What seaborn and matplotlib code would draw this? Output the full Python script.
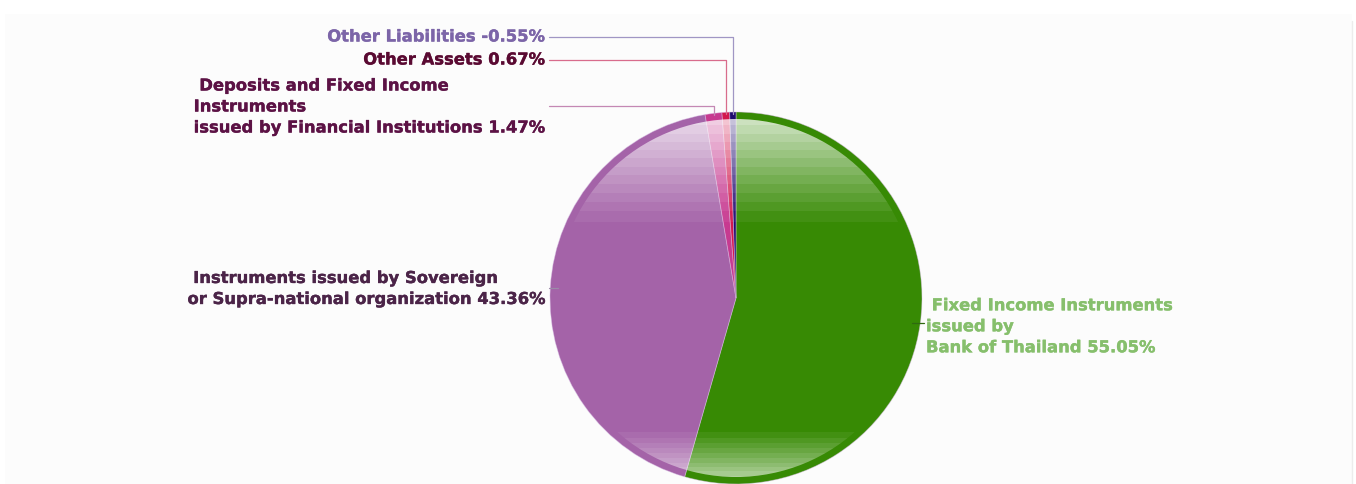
import numpy as np
import matplotlib
matplotlib.use("Agg")
import matplotlib.pyplot as plt
import matplotlib.patheffects as pe
from matplotlib.patches import Circle, Rectangle
import seaborn as sns

# Portfolio composition (% of NAV)
categories = [
    "Fixed Income Instruments\nissued by\nBank of Thailand",
    "Instruments issued by Sovereign\nor Supra-national organization",
    "Deposits and Fixed Income\nInstruments\nissued by Financial Institutions",
    "Other Assets",
    "Other Liabilities",
]
shares = [55.05, 43.36, 1.47, 0.67, -0.55]
slice_colors = ["#378a04", "#a463a8", "#c73a90", "#d2174c", "#1e0b6e"]
label_colors = ["#86bf6c", "#4b2448", "#5c1245", "#5a0a32", "#7c65a8"]
line_colors = ["#2f6a10", "#9c8aa8", "#c488b4", "#d86c8c", "#a096c4"]

sns.set_theme(style="white")
plt.rcParams["font.family"] = ["DejaVu Sans"]

W, H = 1356, 485
fig = plt.figure(figsize=(W / 100, H / 100), dpi=100, facecolor="white")
ax = fig.add_axes([0, 0, 1, 1])
ax.set_facecolor("white")

# light panel behind the chart
ax.add_patch(Rectangle((5, 0), 1347, H - 15, facecolor="#fcfcfc",
                       edgecolor="none", zorder=0))
ax.plot([1352, 1352], [0, H - 22], color="#ececec", lw=1, zorder=0.5)

cx, cy, r = 736, H - 299, 186
sizes = np.abs(shares)
wedges, _ = ax.pie(sizes, colors=slice_colors, startangle=90, counterclock=False,
                   center=(cx, cy), radius=r,
                   wedgeprops=dict(linewidth=0.6, edgecolor=(0.85, 0.75, 0.9, 0.5)))
for w in wedges:
    w.set_zorder(2)

# glossy shading: light bands at top and bottom, clipped inside the rim
ri = r - 7
ys = np.arange(2 * r)  # rows from top of the pie
ypix = (H - cy - r) + ys
alpha = np.zeros_like(ys, dtype=float)
top = (ypix >= 113) & (ypix < 228)
alpha[top] = 0.82 * (1 - (ypix[top] - 113) / 115.0) ** 1.1
bot = (ypix >= 428)
alpha[bot] = 0.62 * np.clip((ypix[bot] - 428) / 50.0, 0, 1) ** 1.2
alpha = np.round(alpha * 16) / 16
img = np.ones((2 * r, 2 * r, 4))
img[:, :, 3] = alpha[:, None]
im = ax.imshow(img, extent=(cx - r, cx + r, cy - r, cy + r), origin="upper",
               zorder=3, interpolation="nearest")
im.set_clip_path(Circle((cx, cy), ri, transform=ax.transData))

# slice mid-angles (clockwise from 12 o'clock)
frac = sizes / sizes.sum()
starts = np.concatenate([[0], np.cumsum(frac)[:-1]])
mids = (starts + frac / 2) * 2 * np.pi

def on_pie(theta, rad):
    return cx + rad * np.sin(theta), cy + rad * np.cos(theta)

fs = 11.8
txt_kw = dict(fontsize=fs, fontweight="bold", zorder=5, linespacing=1.5)

def label(x, y, s, color, **kw):
    t = ax.text(x, y, s, color=color, **txt_kw, **kw)
    t.set_path_effects([pe.withStroke(linewidth=0.25, foreground=color)])
    return t

# top-left labels for the small slices: elbow leaders
small = {4: 38, 3: 61, 2: 107}
for i, ypx in small.items():
    ax_, ay_ = on_pie(mids[i], r - 2)
    ly = H - ypx
    ax.plot([549, ax_, ax_], [ly, ly, ay_], color=line_colors[i], lw=0.9, zorder=4)
pct = [f"{v:.2f}%" for v in shares]
label(545, H - 38, f"{categories[4]} {pct[4]}", label_colors[4], ha="right", va="center")
label(545, H - 61, f"{categories[3]} {pct[3]}", label_colors[3], ha="right", va="center")
dep = categories[2].split("\n")
label(545, H - 108, f" {dep[0]}\n{dep[1]}\n{dep[2]} {pct[2]}", label_colors[2],
      ha="right", va="center", multialignment="left")

# sovereign label on the left
sx, sy = on_pie(mids[1], r - 8)
ax.plot([549, sx], [sy, sy], color=line_colors[1], lw=0.9, zorder=4)
sov = categories[1].split("\n")
label(545, sy - 1, f" {sov[0]}\n{sov[1]} {pct[1]}", label_colors[1],
      ha="right", va="center", multialignment="left")

# Bank of Thailand label on the right
gx, gy = on_pie(mids[0], r - 8)
ax.plot([gx, 924], [gy, gy], color=line_colors[0], lw=0.9, zorder=4)
bot_lines = categories[0].split("\n")
label(926, gy - 4, f" {bot_lines[0]}\n{bot_lines[1]}\n{bot_lines[2]} {pct[0]}",
      label_colors[0], ha="left", va="center")

ax.set_xlim(0, W)
ax.set_ylim(0, H)
ax.set_aspect("auto")
ax.axis("off")
fig.savefig("out.png", dpi=100, facecolor="white")
